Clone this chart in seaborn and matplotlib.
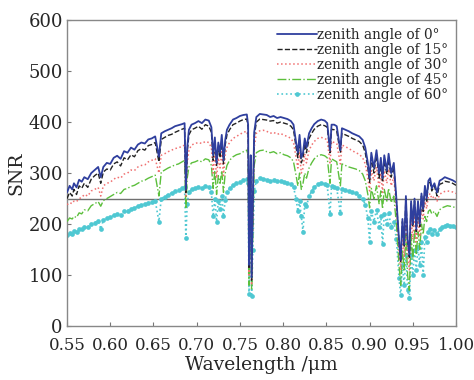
import matplotlib
matplotlib.use("Agg")
import matplotlib.pyplot as plt
import seaborn as sns
import numpy as np

wavelength = [0.550, 0.553, 0.556, 0.558, 0.561, 0.564, 0.567, 0.570, 0.574, 0.578, 0.582, 0.586, 0.589, 0.592, 0.596,
              0.600, 0.604, 0.608, 0.612, 0.616, 0.620, 0.624, 0.628, 0.632, 0.636, 0.640, 0.644, 0.648, 0.652, 0.6563,
              0.659, 0.663, 0.667, 0.671, 0.675, 0.679, 0.683, 0.686, 0.6875, 0.689, 0.691, 0.694, 0.698, 0.702, 0.706,
              0.710, 0.714, 0.717, 0.719, 0.721, 0.723, 0.725, 0.727, 0.729, 0.731, 0.733, 0.735, 0.738, 0.742, 0.746,
              0.750, 0.754, 0.758, 0.7595, 0.7605, 0.7615, 0.7625, 0.7635, 0.7650, 0.7665, 0.769, 0.773, 0.777, 0.781, 0.785,
              0.789, 0.793, 0.797, 0.801, 0.805, 0.809, 0.812, 0.815, 0.817, 0.819, 0.821, 0.823, 0.825, 0.827, 0.830,
              0.833, 0.836, 0.840, 0.844, 0.848, 0.851, 0.8542, 0.856, 0.859, 0.862, 0.8662, 0.868, 0.872, 0.876, 0.880,
              0.884, 0.888, 0.892, 0.895, 0.898, 0.900, 0.902, 0.905, 0.908, 0.911, 0.913, 0.915, 0.917, 0.920, 0.922,
              0.925, 0.928, 0.931, 0.934, 0.936, 0.938, 0.940, 0.942, 0.944, 0.946, 0.948, 0.950, 0.952, 0.954, 0.956,
              0.958, 0.960, 0.962, 0.964, 0.966, 0.968, 0.970, 0.972, 0.975, 0.978, 0.981, 0.984, 0.987, 0.990, 0.993,
              0.996, 1.000]

snr_0 = [262, 275, 268, 280, 272, 287, 283, 292, 288, 300, 306, 312, 292, 312, 320,
         318, 330, 334, 328, 343, 340, 350, 346, 356, 360, 358, 366, 368, 372, 332,
         378, 382, 385, 388, 392, 394, 396, 398, 268, 350, 385, 395, 398, 402, 398,
         405, 403, 390, 335, 370, 320, 360, 340, 375, 325, 365, 385, 395, 405, 408,
         412, 414, 415, 395, 120, 260, 335, 95, 250, 380, 410, 416, 415, 414, 410,
         412, 408, 410, 408, 406, 402, 395, 360, 340, 375, 330, 340, 368, 350, 378,
         388, 396, 402, 405, 403, 398, 345, 395, 395, 392, 345, 388, 385, 382, 378,
         375, 372, 365, 350, 320, 290, 340, 310, 345, 300, 330, 290, 335, 305, 338,
         300, 320, 250, 170, 130, 210, 160, 255, 170, 140, 245, 200, 250, 190, 245,
         200, 260, 230, 275, 250, 285, 290, 270, 280, 262, 285, 288, 292, 290, 288,
         286, 282]

snr_15 = [250, 262, 255, 268, 258, 275, 270, 280, 272, 288, 295, 300, 280, 302, 308,
          306, 318, 322, 314, 330, 326, 336, 332, 344, 348, 345, 354, 356, 360, 322,
          366, 370, 374, 376, 380, 383, 386, 388, 262, 340, 375, 385, 388, 392, 386,
          395, 392, 380, 325, 360, 315, 350, 330, 365, 318, 355, 375, 385, 395, 398,
          402, 405, 406, 390, 115, 250, 320, 90, 240, 370, 400, 406, 405, 404, 402,
          403, 398, 400, 398, 396, 392, 385, 350, 330, 365, 320, 330, 358, 340, 368,
          378, 386, 392, 395, 393, 390, 340, 386, 385, 382, 340, 378, 375, 372, 368,
          365, 362, 355, 340, 310, 282, 330, 300, 335, 290, 320, 282, 325, 298, 328,
          292, 312, 245, 165, 125, 205, 155, 250, 165, 135, 240, 195, 245, 185, 240,
          195, 255, 225, 270, 245, 280, 282, 265, 275, 255, 278, 280, 284, 283, 282,
          280, 276]

snr_30 = [238, 242, 240, 245, 244, 250, 252, 258, 255, 265, 268, 272, 255, 275, 280,
          282, 288, 292, 290, 298, 300, 306, 305, 312, 315, 316, 322, 325, 328, 300,
          335, 338, 342, 345, 348, 350, 352, 355, 255, 320, 345, 355, 358, 360, 358,
          362, 360, 350, 300, 340, 290, 330, 310, 342, 295, 335, 350, 360, 368, 372,
          376, 380, 382, 370, 100, 230, 290, 80, 220, 350, 378, 383, 384, 382, 378,
          380, 376, 378, 374, 372, 368, 360, 330, 310, 340, 300, 310, 338, 320, 345,
          355, 362, 368, 370, 368, 365, 320, 362, 360, 358, 318, 355, 352, 348, 344,
          340, 337, 330, 318, 290, 265, 305, 285, 312, 270, 300, 262, 305, 280, 308,
          275, 292, 230, 150, 110, 180, 135, 220, 140, 110, 215, 170, 220, 165, 215,
          175, 230, 210, 245, 230, 255, 260, 250, 255, 245, 258, 262, 264, 265, 264,
          263, 260]

snr_45 = [205, 212, 210, 215, 213, 222, 220, 228, 226, 236, 240, 244, 235, 246, 250,
          254, 258, 262, 260, 268, 270, 274, 276, 280, 284, 286, 290, 293, 296, 255,
          302, 306, 310, 313, 316, 318, 322, 325, 230, 290, 312, 320, 322, 325, 322,
          328, 326, 315, 270, 305, 258, 295, 280, 305, 262, 300, 315, 325, 332, 336,
          338, 342, 345, 335, 80, 200, 240, 70, 190, 315, 340, 344, 345, 342, 340,
          342, 338, 340, 336, 334, 330, 322, 295, 275, 300, 268, 280, 300, 290, 310,
          320, 328, 334, 336, 334, 330, 280, 328, 325, 322, 275, 318, 315, 312, 310,
          308, 305, 298, 285, 258, 232, 270, 250, 275, 240, 265, 230, 268, 245, 270,
          242, 255, 200, 120, 80, 150, 110, 180, 100, 70, 180, 130, 190, 140, 185,
          150, 200, 180, 215, 205, 225, 228, 220, 225, 215, 228, 232, 234, 236, 235,
          234, 232]

snr_60 = [178, 183, 180, 186, 184, 190, 191, 195, 194, 200, 203, 206, 190, 208, 211,
          213, 217, 220, 218, 225, 226, 230, 232, 235, 238, 240, 242, 244, 246, 205,
          250, 254, 258, 261, 264, 266, 270, 272, 172, 240, 262, 268, 270, 272, 270,
          275, 273, 262, 215, 250, 205, 245, 230, 255, 215, 248, 262, 270, 276, 280,
          282, 286, 288, 280, 62, 160, 180, 58, 150, 265, 285, 290, 289, 287, 285,
          286, 284, 285, 283, 281, 278, 272, 250, 225, 245, 215, 185, 240, 235, 255,
          265, 272, 278, 280, 279, 276, 220, 274, 272, 270, 222, 268, 266, 264, 262,
          260, 256, 250, 238, 212, 165, 225, 205, 228, 195, 215, 160, 220, 200, 222,
          195, 205, 170, 95, 60, 120, 80, 140, 70, 55, 140, 100, 150, 110, 155,
          120, 165, 100, 175, 165, 185, 190, 180, 188, 180, 190, 194, 196, 198, 197,
          196, 194]

labels = ["zenith angle of 0°", "zenith angle of 15°", "zenith angle of 30°",
          "zenith angle of 45°", "zenith angle of 60°"]
ref_level = 250

sns.set_theme(style="white")
plt.rcParams['font.family'] = ['DejaVu Serif']

fig = plt.figure(figsize=(4.74, 3.80), dpi=100)
ax = fig.add_axes([0.1414, 0.142, 0.8207, 0.805])

specs = [
    (snr_60, labels[4], dict(color="#4fc8d2", linestyle=":", linewidth=1.2, marker="o", markersize=3.4,
                             markeredgewidth=0, zorder=2)),
    (snr_45, labels[3], dict(color="#5cbf3c", linestyle="-.", linewidth=1.0, zorder=3)),
    (snr_30, labels[2], dict(color="#f07070", linestyle=":", linewidth=1.1, zorder=4)),
    (snr_15, labels[1], dict(color="#222222", linestyle="--", linewidth=1.0, zorder=5)),
    (snr_0, labels[0], dict(color="#2f3f9e", linestyle="-", linewidth=1.3, zorder=6)),
]
for vals, lab, kw in specs:
    sns.lineplot(x=wavelength, y=vals, ax=ax, label=lab, estimator=None, sort=False, **kw)

ax.axhline(ref_level, color="#707070", linewidth=1.0, zorder=1)

h, l = ax.get_legend_handles_labels()
order = [l.index(x) for x in labels]
leg = ax.legend([h[i] for i in order], [l[i] for i in order], loc="upper right",
                frameon=False, fontsize=9.8, handlelength=3.0, handletextpad=0.0,
                labelspacing=0.08, borderaxespad=0.15)

ax.set_xlim(0.55, 1.00)
ax.set_ylim(0, 600)
ax.set_xticks([0.55, 0.60, 0.65, 0.70, 0.75, 0.80, 0.85, 0.90, 0.95, 1.00])
ax.set_xticklabels(["0.55", "0.60", "0.65", "0.70", "0.75", "0.80", "0.85", "0.90", "0.95", "1.00"])
ax.set_yticks([0, 100, 200, 300, 400, 500, 600])
ax.tick_params(axis="both", direction="in", length=3, width=0.8, color="#777777",
               labelsize=12, bottom=True, left=True, top=False, right=False)
ax.tick_params(axis="x", pad=8)
ax.tick_params(axis="y", labelsize=13, pad=3)
for s in ax.spines.values():
    s.set_color("#888888")
    s.set_linewidth(1.0)
ax.set_xlabel("Wavelength /μm", fontsize=13.5, labelpad=1)
ax.set_ylabel("SNR", fontsize=13.5, labelpad=2)

fig.savefig("out.png", dpi=100)
